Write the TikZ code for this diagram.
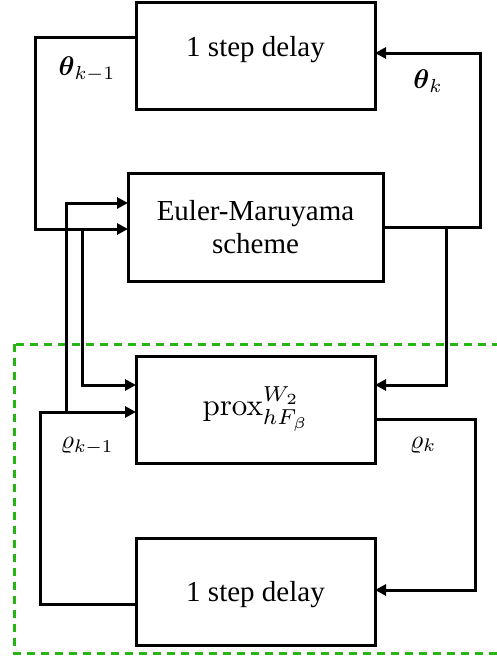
\documentclass[tikz,border=0pt]{standalone}
\usepackage{amsmath}
\usepackage{graphicx}
\usepackage[no-math]{fontspec}
\setmainfont{Liberation Serif}
\usetikzlibrary{arrows.meta,calc}
\definecolor{dgreen}{RGB}{40,180,20}
\begin{document}
\begin{tikzpicture}[x=1pt,y=-1pt,
  box/.style={draw,line width=3pt,inner sep=0pt,outer sep=0pt},
  txt/.style={inner sep=0pt,font=\fontsize{29}{33}\selectfont,align=center},
  mtxt/.style={inner sep=0pt,font=\fontsize{10}{12}\selectfont},
  conn/.style={line width=3pt},
  arr/.style={conn,-{Triangle[length=11pt,width=11pt]}},
  grp/.style={draw=dgreen,line width=3pt,dash pattern=on 8pt off 6pt}]
\useasboundingbox (0,0) rectangle (496,659);
% group frame
\draw[grp] (14,344) rectangle (515,653);
% boxes
\node[box,minimum width=239pt,minimum height=107pt] (d1) at (255.5,55.5) {};
\node[box,minimum width=255pt,minimum height=108pt] (em) at (255.5,227) {};
\node[box,minimum width=239pt,minimum height=107pt] (pr) at (255.5,409.5) {};
\node[box,minimum width=239pt,minimum height=107pt] (d2) at (255.5,591.5) {};
% texts
\node[txt] (d1t) at (255.5,49.5) {1 step delay};
\node[txt] (emt) at (255.5,227.5) {Euler-Maruyama\\scheme};
\node[mtxt] (prt) at (256,409) {\scalebox{3.1}{$\mathrm{prox}^{W_2}_{hF_\beta}$}};
\node[txt] (d2t) at (255.5,595) {1 step delay};
% coordinates
\coordinate (c1) at (35,229);
\coordinate (j1) at (82,229);
\coordinate (c2) at (40,412);
\coordinate (j2) at (66,412);
\coordinate (c3) at (480,227);
\coordinate (j3) at (446,227);
\coordinate (c4) at (475,419);
% theta loop
\draw[arr] (d1.west |- 0,37) -| (c1) -- (em.west |- c1);
\draw[arr] (j1) |- (pr.west |- 0,385);
% rho loop
\draw[arr] (d2.west |- 0,604) -| (c2) -- (pr.west |- c2);
\draw[arr] (j2) |- (em.west |- 0,203);
% EM output
\draw[arr] (em.east |- c3) -| (480,53) -- (d1.east |- 0,53);
\draw[arr] (j3) |- (pr.east |- 0,385);
% prox output
\draw[arr] (pr.east |- c4) -| (475,590) -- (d2.east |- 0,590);
% labels
\node[mtxt] (l1) at (87,69) {\scalebox{2.7}{$\boldsymbol{\theta}_{k-1}$}};
\node[mtxt] (l2) at (428,81) {\scalebox{2.7}{$\boldsymbol{\theta}_{k}$}};
\node[mtxt] (l3) at (87,446) {\scalebox{2.6}{$\varrho_{k-1}$}};
\node[mtxt] (l4) at (423,445) {\scalebox{2.6}{$\varrho_{k}$}};
\end{tikzpicture}
\end{document}
